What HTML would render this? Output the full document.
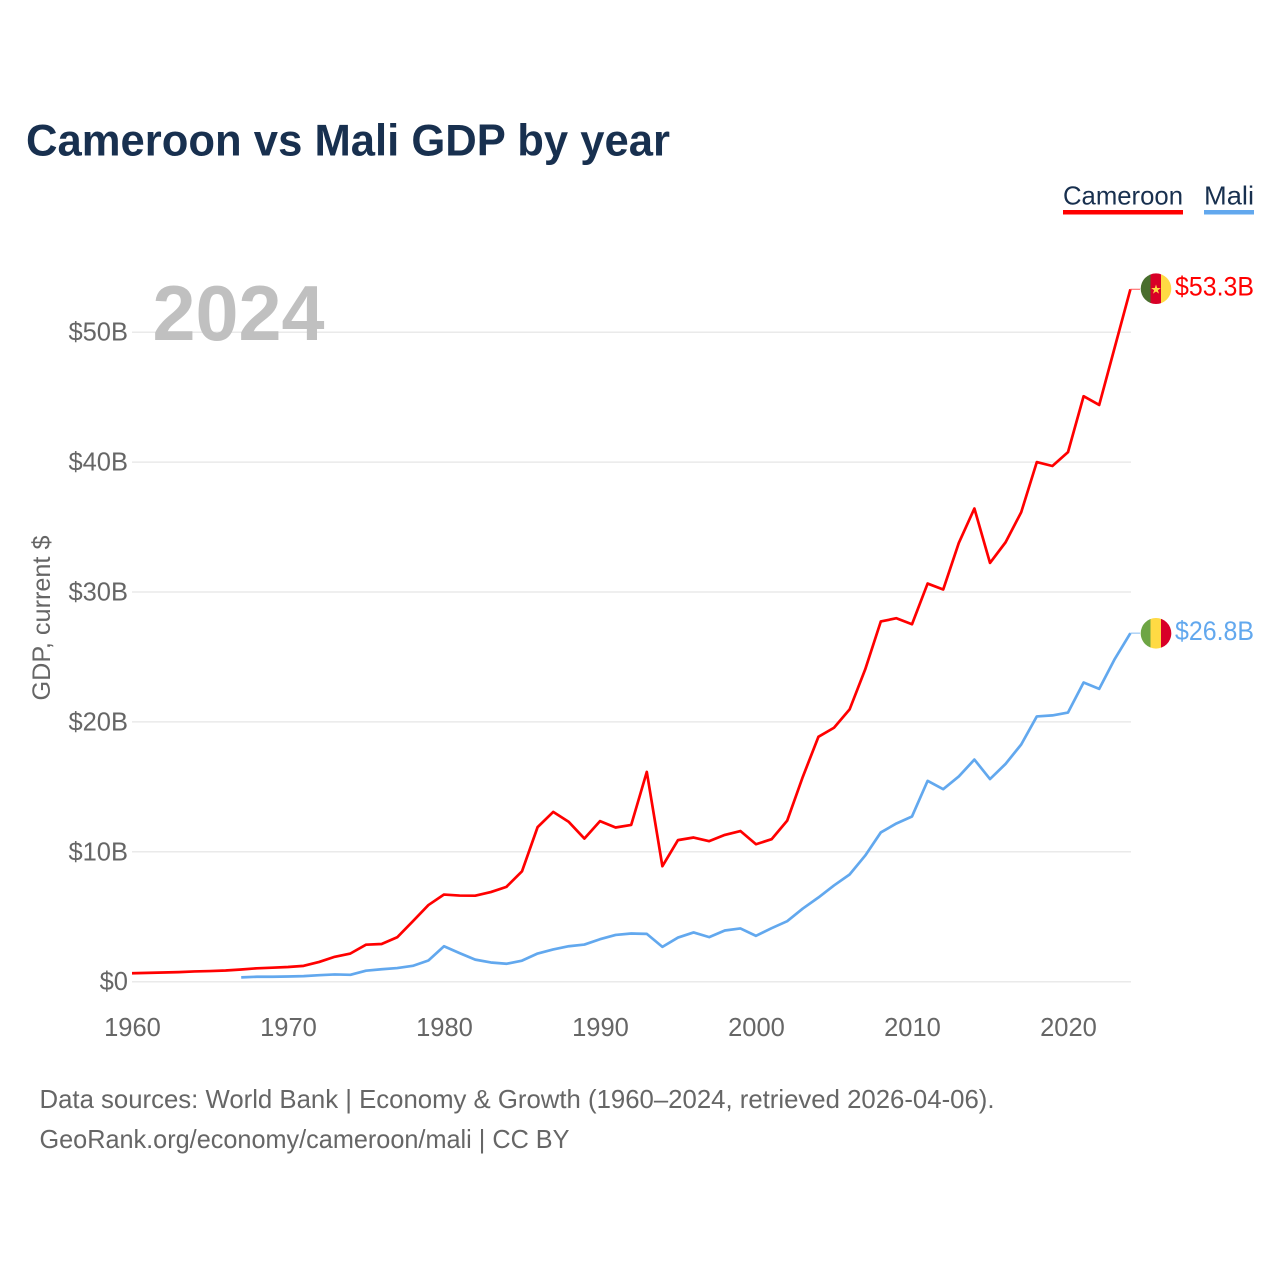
<!DOCTYPE html>
<html lang="en">
<head>
<meta charset="utf-8">
<title>Cameroon vs Mali GDP by year</title>
<style>
html,body{margin:0;padding:0;background:#fff;}
svg{display:block;font-family:"Liberation Sans",Arial,sans-serif;}
</style>
</head>
<body>
<svg id="chart" width="1280" height="1280" viewBox="0 0 1280 1280" xmlns="http://www.w3.org/2000/svg">
  <defs>
    <clipPath id="flag-clip-cameroon"><circle cx="1156" cy="288.7" r="15.3"></circle></clipPath>
    <clipPath id="flag-clip-mali"><circle cx="1156" cy="633.3" r="15.3"></circle></clipPath>
  </defs>
  <rect x="0" y="0" width="1280" height="1280" fill="#ffffff"></rect>
  <text x="26" y="155.5" font-size="44.5" font-weight="700" fill="#18304f" textLength="644" lengthAdjust="spacingAndGlyphs">Cameroon vs Mali GDP by year</text>
  <g id="grid"></g>
  <g id="y-ticks"></g>
  <g id="x-ticks"></g>
  <text transform="translate(50,618) rotate(-90)" text-anchor="middle" font-size="25" fill="#666666" textLength="165" lengthAdjust="spacingAndGlyphs">GDP, current $</text>
  <text x="152.5" y="340" font-size="78" font-weight="700" fill="#c0c0c0" textLength="172" lengthAdjust="spacingAndGlyphs">2024</text>
  <g id="series"></g>

  <g>
    <text x="1063" y="204.5" font-size="26" fill="#18304f" textLength="120" lengthAdjust="spacingAndGlyphs">Cameroon</text>
    <rect x="1063" y="210" width="120" height="4.5" fill="#ff0000"></rect>
  </g>
  <g>
    <text x="1204" y="204.5" font-size="26" fill="#18304f" textLength="50" lengthAdjust="spacingAndGlyphs">Mali</text>
    <rect x="1204" y="210" width="50" height="4.5" fill="#62a8ee"></rect>
  </g>

  <g clip-path="url(#flag-clip-cameroon)">
    <rect x="1140" y="273" width="10.5" height="32" fill="#496e2d"></rect>
    <rect x="1150.5" y="273" width="10.5" height="32" fill="#d80027"></rect>
    <rect x="1161" y="273" width="11" height="32" fill="#ffda44"></rect>
    <polygon points="1156,284.5 1157.2,288 1160.8,288 1157.9,290.2 1159,293.6 1156,291.5 1153,293.6 1154.1,290.2 1151.2,288 1154.8,288" fill="#ffda44"></polygon>
  </g>
  <g clip-path="url(#flag-clip-mali)">
    <rect x="1140" y="617" width="10.5" height="33" fill="#6da544"></rect>
    <rect x="1150.5" y="617" width="10.5" height="33" fill="#ffda44"></rect>
    <rect x="1161" y="617" width="11" height="33" fill="#d80027"></rect>
  </g>

  <text x="1175" y="295.5" font-size="26.5" fill="#ff0000" textLength="79" lengthAdjust="spacingAndGlyphs">$53.3B</text>
  <text x="1175" y="640" font-size="26.5" fill="#62a8ee" textLength="79" lengthAdjust="spacingAndGlyphs">$26.8B</text>

  <text x="39.5" y="1108" font-size="26" fill="#666666" textLength="955" lengthAdjust="spacingAndGlyphs">Data sources: World Bank | Economy &amp; Growth (1960–2024, retrieved 2026-04-06).</text>
  <text x="39.5" y="1148" font-size="26" fill="#666666" textLength="530" lengthAdjust="spacingAndGlyphs">GeoRank.org/economy/cameroon/mali | CC BY</text>
</svg>
<script>
const xTickYears = [1960, 1970, 1980, 1990, 2000, 2010, 2020];
const yTickValues = [0, 10, 20, 30, 40, 50];
const yTickLabels = ["$0", "$10B", "$20B", "$30B", "$40B", "$50B"];
const cameroonStartYear = 1960;
const cameroonGdp = [0.65, 0.68, 0.71, 0.74, 0.79, 0.82, 0.86, 0.94, 1.03, 1.08, 1.13, 1.22, 1.52, 1.92, 2.17, 2.85, 2.9, 3.42, 4.65, 5.9, 6.71, 6.63, 6.62, 6.9, 7.3, 8.5, 11.9, 13.07, 12.3, 11.02, 12.36, 11.87, 12.07, 16.15, 8.89, 10.9, 11.1, 10.82, 11.3, 11.6, 10.58, 10.97, 12.4, 15.77, 18.85, 19.55, 20.96, 24.04, 27.73, 27.98, 27.52, 30.65, 30.19, 33.78, 36.43, 32.24, 33.83, 36.14, 40.0, 39.7, 40.77, 45.07, 44.4, 48.85, 53.3];
const maliStartYear = 1967;
const maliGdp = [0.33, 0.38, 0.38, 0.4, 0.43, 0.5, 0.56, 0.53, 0.85, 0.96, 1.05, 1.22, 1.63, 2.73, 2.2, 1.7, 1.48, 1.38, 1.62, 2.17, 2.48, 2.73, 2.86, 3.27, 3.6, 3.71, 3.68, 2.68, 3.4, 3.79, 3.43, 3.94, 4.1, 3.53, 4.12, 4.66, 5.63, 6.48, 7.41, 8.25, 9.71, 11.49, 12.18, 12.72, 15.46, 14.82, 15.8, 17.1, 15.6, 16.77, 18.26, 20.42, 20.5, 20.72, 23.03, 22.54, 24.85, 26.83];

const SVG_NS = "http://www.w3.org/2000/svg";
const xScale = function (year) { return 132 + (year - 1960) * 15.6; };
const yScale = function (value) { return 981.7 - value * 12.99; };

const gridGroup = document.getElementById("grid");
const yTickGroup = document.getElementById("y-ticks");
yTickValues.forEach(function (value, i) {
  const line = document.createElementNS(SVG_NS, "line");
  
  
  line.setAttribute("x1", 132);
  line.setAttribute("x2", 1131);
  line.setAttribute("y1", yScale(value));
  line.setAttribute("y2", yScale(value));
  line.setAttribute("stroke", "#eaeaea");
  line.setAttribute("stroke-width", "1.5");
  gridGroup.appendChild(line);

  const label = document.createElementNS(SVG_NS, "text");
  
  
  label.setAttribute("x", 128);
  label.setAttribute("y", yScale(value) + 8.5);
  label.setAttribute("text-anchor", "end");
  label.setAttribute("font-size", "25.5");
  label.setAttribute("fill", "#666666");
  label.textContent = yTickLabels[i];
  yTickGroup.appendChild(label);
});

const xTickGroup = document.getElementById("x-ticks");
xTickYears.forEach(function (year) {
  const label = document.createElementNS(SVG_NS, "text");
  
  
  label.setAttribute("x", xScale(year) + 0.5);
  label.setAttribute("y", 1036);
  label.setAttribute("text-anchor", "middle");
  label.setAttribute("font-size", "25.5");
  label.setAttribute("fill", "#666666");
  label.textContent = String(year);
  xTickGroup.appendChild(label);
});

const seriesGroup = document.getElementById("series");
function linePoints(values, startYear) {
  return values.map(function (value, i) {
    return xScale(startYear + i).toFixed(2) + "," + yScale(value).toFixed(2);
  }).join(" ");
}

const connectorCameroon = document.createElementNS(SVG_NS, "line");


connectorCameroon.setAttribute("x1", xScale(2024));
connectorCameroon.setAttribute("x2", 1140);
connectorCameroon.setAttribute("y1", yScale(cameroonGdp[cameroonGdp.length - 1]));
connectorCameroon.setAttribute("y2", yScale(cameroonGdp[cameroonGdp.length - 1]));
connectorCameroon.setAttribute("stroke", "#ff0000");
connectorCameroon.setAttribute("stroke-opacity", "0.5");
connectorCameroon.setAttribute("stroke-width", "1.3");
seriesGroup.appendChild(connectorCameroon);

const connectorMali = document.createElementNS(SVG_NS, "line");


connectorMali.setAttribute("x1", xScale(2024));
connectorMali.setAttribute("x2", 1140);
connectorMali.setAttribute("y1", yScale(maliGdp[maliGdp.length - 1]));
connectorMali.setAttribute("y2", yScale(maliGdp[maliGdp.length - 1]));
connectorMali.setAttribute("stroke", "#62a8ee");
connectorMali.setAttribute("stroke-opacity", "0.6");
connectorMali.setAttribute("stroke-width", "1.3");
seriesGroup.appendChild(connectorMali);

const maliLine = document.createElementNS(SVG_NS, "polyline");


maliLine.setAttribute("points", linePoints(maliGdp, maliStartYear));
maliLine.setAttribute("fill", "none");
maliLine.setAttribute("stroke", "#62a8ee");
maliLine.setAttribute("stroke-width", "2.7");
maliLine.setAttribute("stroke-linejoin", "round");
seriesGroup.appendChild(maliLine);

const cameroonLine = document.createElementNS(SVG_NS, "polyline");


cameroonLine.setAttribute("points", linePoints(cameroonGdp, cameroonStartYear));
cameroonLine.setAttribute("fill", "none");
cameroonLine.setAttribute("stroke", "#ff0000");
cameroonLine.setAttribute("stroke-width", "2.7");
cameroonLine.setAttribute("stroke-linejoin", "round");
seriesGroup.appendChild(cameroonLine);
</script>
</body>
</html>
